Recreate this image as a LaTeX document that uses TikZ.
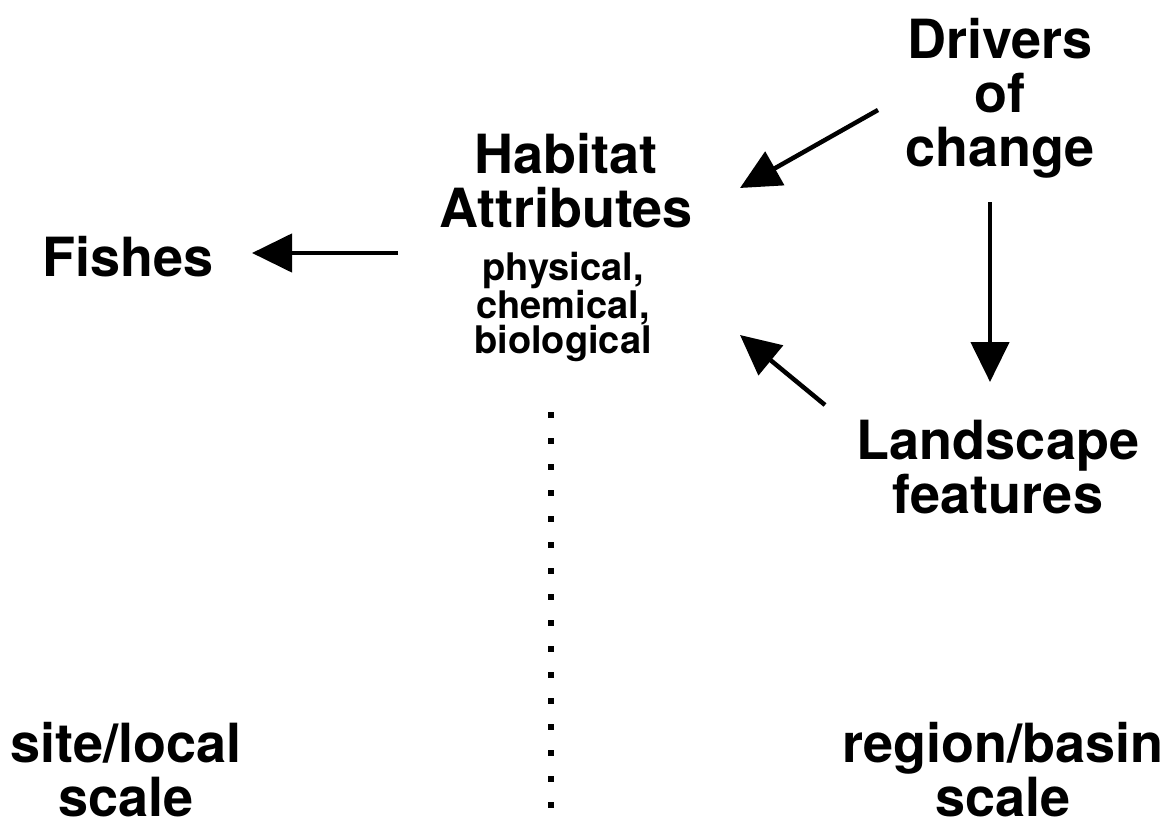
\documentclass[tikz,border=0pt]{standalone}
\usepackage{fontspec}
\setmainfont{TeX Gyre Heros}
\usetikzlibrary{arrows.meta}
\begin{document}
\begin{tikzpicture}[x=1pt,y=-1pt,
  big/.style={inner sep=0pt, align=center, anchor=north, font=\fontsize{54}{54}\selectfont\bfseries},
  small/.style={inner sep=0pt, align=center, anchor=north, font=\fontsize{38}{35}\selectfont\bfseries},
  arr/.style={line width=4.5pt, -{Triangle[length=40pt,width=38pt]}},
  dots/.style={line width=6pt, dash pattern=on 6pt off 20pt}]
\useasboundingbox (0,0) rectangle (1174,829);
\node[big] (drivers) at (1000,18) {Drivers\\of\\change};
\node[big] (habitat) at (566,133) {Habitat\\Attributes};
\node[small] (attr) at (563,252) {physical,\\chemical,\\biological};
\node[big] (fishes) at (128,236) {Fishes};
\node[big] (landscape) at (998,420) {Landscape\\features};
\node[big] (site) at (126,722) {site/local\\scale};
\node[big] (region) at (1003,722) {region/basin\\scale};
\coordinate (fa) at (398,253);
\coordinate (fb) at (252,253);
\coordinate (da) at (878,110);
\coordinate (db) at (740,188);
\coordinate (dc) at (990,202);
\coordinate (dd) at (990,382);
\coordinate (la) at (825,405);
\coordinate (lb) at (740,335);
\coordinate (s1) at (551,412);
\coordinate (s2) at (551,809);
\draw[arr] (fa) -- (fb);
\draw[arr] (da) -- (db);
\draw[arr] (dc) -- (dd);
\draw[arr] (la) -- (lb);
\draw[dots] (s1) -- (s2);
\end{tikzpicture}
\end{document}
